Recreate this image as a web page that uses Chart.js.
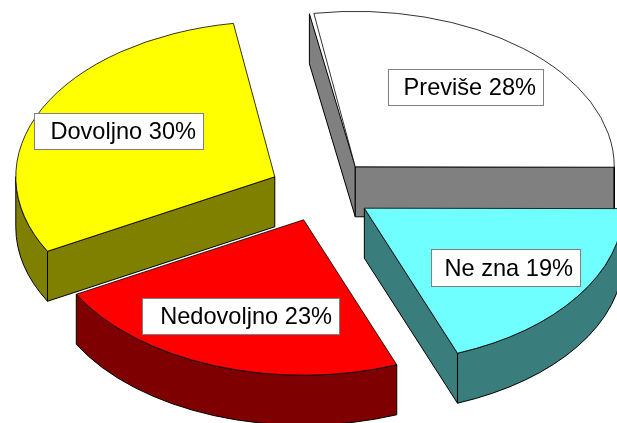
<!DOCTYPE html>
<html>
<head>
<meta charset="utf-8">
<title>Pie</title>
<script src="https://cdn.jsdelivr.net/npm/chart.js@4"></script>
<style>
  body { margin: 0; background: #fff; }
  canvas { display: block; }
</style>
</head>
<body>
<canvas id="chart" width="617" height="423"></canvas>
<script>
const categories = ["Previše", "Ne zna", "Nedovoljno", "Dovoljno"];
const shares = [27.6, 19.1, 22.9, 30.4];
const faceColors = ["#ffffff", "#70ffff", "#ff0000", "#ffff00"];
const wallColors = ["#808080", "#3a7d7d", "#7f0000", "#808000"];

// label boxes: left, top, right, bottom
const labelBoxes = [
  [388, 69, 544, 106],
  [431, 249, 581, 287],
  [142, 298, 340, 335],
  [34, 113, 204, 150]
];

const squash = 0.6;
const depth = 50;
const explode = 52;
const whiteWallGap = 1 * Math.PI / 180;

function sliceCenter(arc) {
  const mid = (arc.startAngle + arc.endAngle) / 2;
  return { x: Math.cos(mid) * explode, y: Math.sin(mid) * explode };
}

function drawRadialWall(ctx, g, angle, color) {
  const px = g.x + Math.cos(angle) * g.r;
  const py = g.y + Math.sin(angle) * g.r * squash;
  ctx.beginPath();
  ctx.moveTo(g.x, g.y);
  ctx.lineTo(px, py);
  ctx.lineTo(px, py + depth);
  ctx.lineTo(g.x, g.y + depth);
  ctx.closePath();
  ctx.fillStyle = color;
  ctx.fill();
  ctx.stroke();
}

function drawRimWall(ctx, g, from, to, color) {
  ctx.beginPath();
  ctx.ellipse(g.x, g.y, g.r, g.r * squash, 0, from, to);
  ctx.ellipse(g.x, g.y + depth, g.r, g.r * squash, 0, to, from, true);
  ctx.closePath();
  ctx.fillStyle = color;
  ctx.fill();
  ctx.stroke();
}

const pieDepth = {
  id: "pieDepth",
  beforeDatasetDraw(chart) {
    const ctx = chart.ctx;
    const arcs = chart.getDatasetMeta(0).data;

    // side walls first, the top faces go over them
    ctx.save();
    ctx.strokeStyle = "#000";
    ctx.lineWidth = 1;
    arcs.forEach((arc, i) => {
      const c = sliceCenter(arc);
      const g = { x: arc.x + c.x, y: arc.y + c.y * squash, r: arc.outerRadius };
      const color = wallColors[i];
      if (Math.cos(arc.startAngle) < 0) {
        drawRadialWall(ctx, g, arc.startAngle - (i === 0 ? whiteWallGap : 0), color);
      }
      if (Math.cos(arc.endAngle) > 0) {
        drawRadialWall(ctx, g, arc.endAngle, color);
      }
      const from = Math.max(arc.startAngle, 0);
      const to = Math.min(arc.endAngle, Math.PI);
      if (to > from) drawRimWall(ctx, g, from, to, color);
    });
    ctx.restore();

    arcs.forEach(arc => {
      const c = sliceCenter(arc);
      ctx.save();
      ctx.translate(c.x, arc.y + c.y * squash);
      ctx.scale(1, squash);
      ctx.translate(0, -arc.y);
      arc.draw(ctx);
      ctx.restore();
    });
    return false;
  },
  afterDatasetsDraw(chart) {
    const ctx = chart.ctx;
    ctx.save();
    ctx.font = "23.6px 'Liberation Sans', Arial, sans-serif";
    ctx.textBaseline = "middle";
    ctx.textAlign = "right";
    categories.forEach((name, i) => {
      const b = labelBoxes[i];
      ctx.fillStyle = "#fff";
      ctx.fillRect(b[0], b[1], b[2] - b[0], b[3] - b[1]);
      ctx.strokeStyle = "#808080";
      ctx.lineWidth = 1;
      ctx.strokeRect(b[0] + 0.5, b[1] + 0.5, b[2] - b[0] - 1, b[3] - b[1] - 1);
      ctx.fillStyle = "#000";
      ctx.fillText(name + " " + Math.round(shares[i]) + "%", b[2] - 8, (b[1] + b[3]) / 2 + 1);
    });
    ctx.restore();
  }
};

new Chart(document.getElementById("chart"), {
  type: "pie",
  data: {
    labels: categories,
    datasets: [{
      data: shares,
      backgroundColor: faceColors,
      borderColor: "#000",
      borderWidth: 1
    }]
  },
  options: {
    responsive: false,
    animation: false,
    events: [],
    rotation: -9.2,
    radius: 259,
    layout: { padding: { left: 26, right: 0, top: 0, bottom: 42 } },
    plugins: {
      legend: { display: false },
      tooltip: { enabled: false }
    }
  },
  plugins: [pieDepth]
});
</script>
</body>
</html>
